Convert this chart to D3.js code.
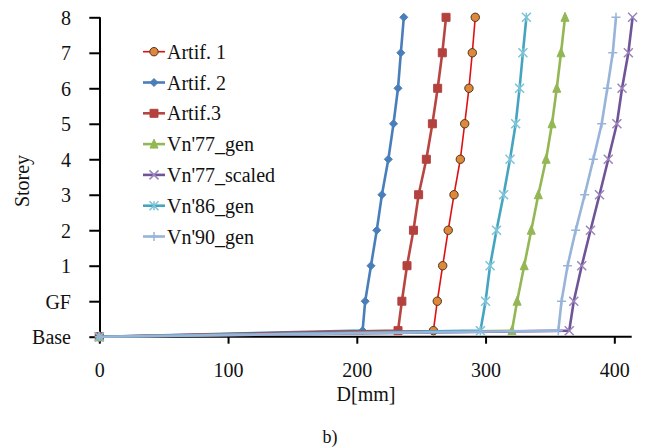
<!DOCTYPE html>
<html>
<head>
<meta charset="utf-8">
<script src="https://cdn.jsdelivr.net/npm/d3@7"></script>
<style>
  html, body { margin: 0; padding: 0; background: #fff; }
</style>
</head>
<body>
<svg id="chart" width="645" height="448"></svg>
<script>
// Storey levels: origin, base point, GF, storeys 1..8
const levels = [0, 0.17, 1, 2, 3, 4, 5, 6, 7, 8, 9];
const levelTicks = [0, 1, 2, 3, 4, 5, 6, 7, 8, 9];
const levelLabels = ["Base", "GF", "1", "2", "3", "4", "5", "6", "7", "8"];
const dTicks = [0, 100, 200, 300, 400];

// Storey displacement D [mm] for each record
const artif1     = [0, 259.5, 262.5, 266.7, 271.0, 275.5, 280.4, 283.8, 287.1, 289.7, 292.0];
const artif2     = [0, 204.5, 206.5, 211.0, 215.5, 219.5, 224.5, 228.5, 232.0, 234.2, 236.5];
const artif3     = [0, 232.0, 235.0, 239.0, 244.0, 248.0, 254.0, 258.7, 262.8, 266.4, 269.3];
const vn77gen    = [0, 320.5, 324.5, 330.0, 335.5, 341.0, 347.0, 351.6, 355.3, 358.6, 361.7];
const vn77scaled = [0, 365.0, 368.5, 374.7, 381.5, 388.5, 395.3, 402.0, 406.0, 410.9, 414.2];
const vn86gen    = [0, 296.0, 300.0, 303.5, 308.5, 314.0, 319.0, 323.4, 326.4, 329.0, 331.7];
const vn90gen    = [0, 356.5, 359.0, 363.7, 370.0, 377.0, 383.7, 390.2, 394.6, 398.8, 401.3];

const seriesNames = ["Artif. 1", "Artif. 2", "Artif.3", "Vn'77_gen", "Vn'77_scaled", "Vn'86_gen", "Vn'90_gen"];
const seriesValues = [artif1, artif2, artif3, vn77gen, vn77scaled, vn86gen, vn90gen];

const FONT = "'Liberation Serif', 'Times New Roman', 'DejaVu Serif', serif";

const styles = [
  { line: "#e01010", width: 1.6, marker: "circle",   fill: "#e0883a", stroke: "#4a3622" },
  { line: "#4a7ebb", width: 2.6, marker: "diamond",  fill: "#4a7ebb", stroke: "#4a7ebb" },
  { line: "#b84541", width: 2.6, marker: "square",   fill: "#b3423f", stroke: "#b3423f" },
  { line: "#94b755", width: 2.6, marker: "triangle", fill: "#94b755", stroke: "#94b755" },
  { line: "#6f5597", width: 2.6, marker: "x",        fill: "none",    stroke: "#9a84bb" },
  { line: "#45a5c0", width: 2.6, marker: "star",     fill: "none",    stroke: "#7cc3d8" },
  { line: "#98b4d9", width: 2.6, marker: "plus",     fill: "none",    stroke: "#98b4d9" }
];

const svg = d3.select("#chart");

const x = d3.scaleLinear().domain([0, 413.5]).range([99.3, 631.7]);
const y = d3.scaleLinear().domain([0, 9]).range([336.7, 17.3]);

// Marker path generator
function markerPath(type, s) {
  const h = s / 2;
  switch (type) {
    case "diamond":  return `M0,${-h}L${h},0L0,${h}L${-h},0Z`;
    case "square":   return `M${-h},${-h}H${h}V${h}H${-h}Z`;
    case "triangle": return `M0,${-h - 1}L${h},${h}L${-h},${h}Z`;
    case "x":        return `M${-h},${-h}L${h},${h}M${-h},${h}L${h},${-h}`;
    case "star":     return `M${-h},${-h}L${h},${h}M${-h},${h}L${h},${-h}M0,${-h}V${h}`;
    case "plus":     return `M${-h},0H${h}M0,${-h}V${h}`;
  }
  return "";
}

function drawMarker(g, st, cx, cy) {
  if (st.marker === "circle") {
    g.append("circle").attr("cx", cx).attr("cy", cy).attr("r", 4.2)
      .attr("fill", st.fill).attr("stroke", st.stroke).attr("stroke-width", 1);
  } else {
    const filled = st.fill !== "none";
    g.append("path").attr("transform", `translate(${cx},${cy})`)
      .attr("d", markerPath(st.marker, filled ? 8 : 9))
      .attr("fill", st.fill).attr("stroke", st.stroke)
      .attr("stroke-width", filled ? 1 : 1.5);
  }
}

function styleText(sel, size) {
  sel.attr("font-family", null).attr("font-size", null)
    .style("font-family", FONT).style("font-size", size + "px").style("fill", "#111");
}

// Axes
const yAxis = d3.axisLeft(y).tickValues(levelTicks)
  .tickFormat((d, i) => levelLabels[i]).tickSize(10.7).tickPadding(0);
const gy = svg.append("g").attr("transform", "translate(100,0)").call(yAxis)
  .attr("font-family", null).attr("font-size", null);
gy.select(".domain").attr("d", `M0,${y(0)}V${y(9)}`).attr("stroke", "#000").attr("stroke-width", 2);
gy.selectAll(".tick line").attr("stroke", "#000").attr("stroke-width", 2);
gy.selectAll(".tick text").attr("x", -29).attr("dy", null)
  .attr("dominant-baseline", "central").attr("text-anchor", "end").call(styleText, 20);

const xAxis = d3.axisBottom(x).tickValues(dTicks).tickSize(7).tickPadding(0);
const gx = svg.append("g").attr("transform", `translate(0,${y(0)})`).call(xAxis)
  .attr("font-family", null).attr("font-size", null);
gx.select(".domain").attr("d", `M${x(0) - 1},0H${x(413.5)}`).attr("stroke", "#000").attr("stroke-width", 2);
gx.selectAll(".tick line").attr("stroke", "#000").attr("stroke-width", 2);
gx.selectAll(".tick text").attr("y", 33).attr("dy", null)
  .attr("dominant-baseline", "central").call(styleText, 20);

// Series
const line = d3.line().x(d => x(d[0])).y(d => y(d[1]));
seriesValues.forEach((vals, i) => {
  const st = styles[i];
  const pts = vals.map((v, k) => [v, levels[k]]);
  const g = svg.append("g");
  g.append("path").datum(pts).attr("d", line)
    .attr("fill", "none").attr("stroke", st.line).attr("stroke-width", st.width)
    .attr("stroke-linejoin", "round");
  pts.forEach(p => drawMarker(g, st, x(p[0]), y(p[1])));
});

// Legend
const legend = svg.append("g");
seriesNames.forEach((name, i) => {
  const st = styles[i];
  const cy = 51.7 + i * 30.8;
  const g = legend.append("g");
  g.append("line").attr("x1", 143).attr("x2", 165).attr("y1", cy).attr("y2", cy)
    .attr("stroke", st.line).attr("stroke-width", st.width);
  drawMarker(g, st, 154, cy);
  g.append("text").attr("x", 167).attr("y", cy).attr("dominant-baseline", "central")
    .call(styleText, 20).text(name);
});

// Titles
svg.append("text").attr("transform", "translate(22,181) rotate(-90)")
  .attr("text-anchor", "middle").attr("dominant-baseline", "central")
  .call(styleText, 20).text("Storey");
svg.append("text").attr("x", 366).attr("y", 394).attr("text-anchor", "middle")
  .attr("dominant-baseline", "central").call(styleText, 20).text("D[mm]");
svg.append("text").attr("x", 330).attr("y", 437).attr("text-anchor", "middle")
  .attr("dominant-baseline", "central").call(styleText, 18).text("b)");
</script>
</body>
</html>
